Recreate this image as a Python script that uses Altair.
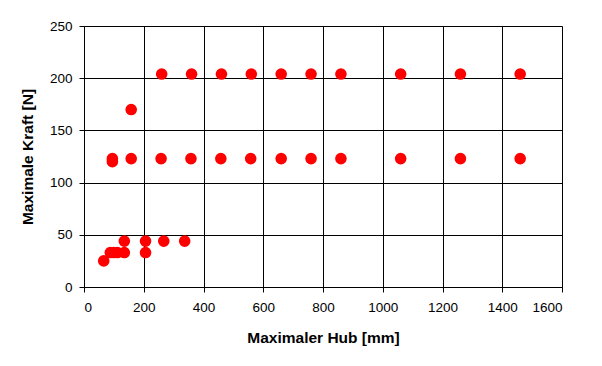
import altair as alt
import pandas as pd

hub = [66, 88, 100, 112, 135, 135, 206, 206, 267, 337,
       95, 95, 158, 258, 358, 458, 558, 660, 760, 860, 1060, 1260, 1460,
       158,
       260, 360, 460, 560, 660, 760, 860, 1060, 1260, 1460]
kraft = [25, 33, 33, 33, 33, 44, 33, 44, 44, 44,
         120, 123, 123, 123, 123, 123, 123, 123, 123, 123, 123, 123, 123,
         170,
         204, 204, 204, 204, 204, 204, 204, 204, 204, 204]

df = pd.DataFrame({"hub": hub, "kraft": kraft})

font = "Liberation Sans"

chart = alt.Chart(df).mark_circle(color="#ff0000", opacity=1, size=135).encode(
    x=alt.X("hub:Q", scale=alt.Scale(domain=[0, 1600], nice=False),
            axis=alt.Axis(title="Maximaler Hub [mm]", values=list(range(0, 1601, 200)),
                          format="d",
                          grid=True, gridColor="black", gridOpacity=1, gridWidth=1,
                          domainColor="black", tickColor="black", tickSize=5,
                          labelColor="black", labelFont=font, labelFontSize=13.5,
                          labelPadding=8, titleFont=font, titleFontSize=15.5,
                          titleFontWeight="bold", titleColor="black", titlePadding=17)),
    y=alt.Y("kraft:Q", scale=alt.Scale(domain=[0, 250], nice=False),
            axis=alt.Axis(title="Maximale Kraft [N]", values=list(range(0, 251, 50)),
                          format="d",
                          grid=True, gridColor="black", gridOpacity=1, gridWidth=1,
                          domainColor="black", tickColor="black", tickSize=5,
                          labelColor="black", labelFont=font, labelFontSize=13.5,
                          labelPadding=7, titleFont=font, titleFontSize=15.5,
                          titleFontWeight="bold", titleColor="black", titlePadding=14)),
).properties(
    width=478, height=261,
    autosize=alt.AutoSizeParams(type="none"),
    padding={"left": 76, "top": 18, "right": 30, "bottom": 70},
).configure_view(stroke="black", strokeWidth=1).configure(background="white")

chart.save("out.html", embed_options={"renderer": "svg", "actions": False})
